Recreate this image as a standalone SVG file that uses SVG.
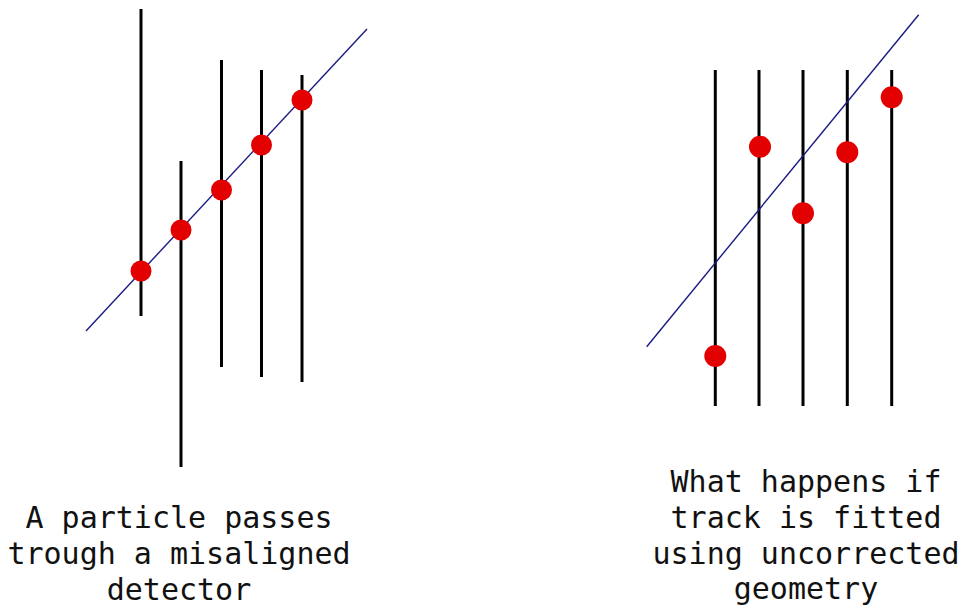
<svg xmlns="http://www.w3.org/2000/svg" width="967" height="610" viewBox="0 0 967 610">
<style>
.det{stroke:#000;stroke-width:3;fill:none}
.trk{stroke:#1a1a80;stroke-width:1.4;fill:none}
.hit{fill:#e30000}
.lbl{font-family:"DejaVu Sans Mono","Liberation Mono",monospace;font-size:30px;fill:#111;text-anchor:middle}
</style>
<rect width="967" height="610" fill="#fff"/>
<g id="left-detectors">
<line class="det" x1="141" y1="9" x2="141" y2="316"/>
<line class="det" x1="181" y1="161" x2="181" y2="467"/>
<line class="det" x1="221.5" y1="60" x2="221.5" y2="367"/>
<line class="det" x1="261.5" y1="70" x2="261.5" y2="377"/>
<line class="det" x1="302" y1="75" x2="302" y2="382"/>
</g>
<g id="left-track">
<line class="trk" x1="86" y1="331" x2="367" y2="29"/>
</g>
<g id="left-hits">
<circle class="hit" cx="141" cy="271" r="10.5"/>
<circle class="hit" cx="181" cy="230" r="10.5"/>
<circle class="hit" cx="221.5" cy="190" r="10.5"/>
<circle class="hit" cx="261.5" cy="145" r="10.5"/>
<circle class="hit" cx="302" cy="100" r="10.5"/>
</g>
<g id="right-detectors">
<line class="det" x1="715.3" y1="70" x2="715.3" y2="406"/>
<line class="det" x1="759" y1="70" x2="759" y2="406"/>
<line class="det" x1="803" y1="70" x2="803" y2="406"/>
<line class="det" x1="847.3" y1="70" x2="847.3" y2="406"/>
<line class="det" x1="891.7" y1="70" x2="891.7" y2="406"/>
</g>
<g id="right-track">
<line class="trk" x1="646.7" y1="346.7" x2="918.7" y2="14.7"/>
</g>
<g id="right-hits">
<circle class="hit" cx="715.3" cy="356" r="11"/>
<circle class="hit" cx="760" cy="146.7" r="11"/>
<circle class="hit" cx="803" cy="213.3" r="11"/>
<circle class="hit" cx="847.3" cy="152.3" r="11"/>
<circle class="hit" cx="891.7" cy="97.3" r="11"/>
</g>
<g id="left-caption">
<text class="lbl" x="179" y="528">A particle passes</text>
<text class="lbl" x="179" y="564">trough a misaligned</text>
<text class="lbl" x="179" y="600">detector</text>
</g>
<g id="right-caption">
<text class="lbl" x="806" y="492">What happens if</text>
<text class="lbl" x="806" y="528">track is fitted</text>
<text class="lbl" x="806" y="564">using uncorrected</text>
<text class="lbl" x="806" y="599">geometry</text>
</g>
</svg>
